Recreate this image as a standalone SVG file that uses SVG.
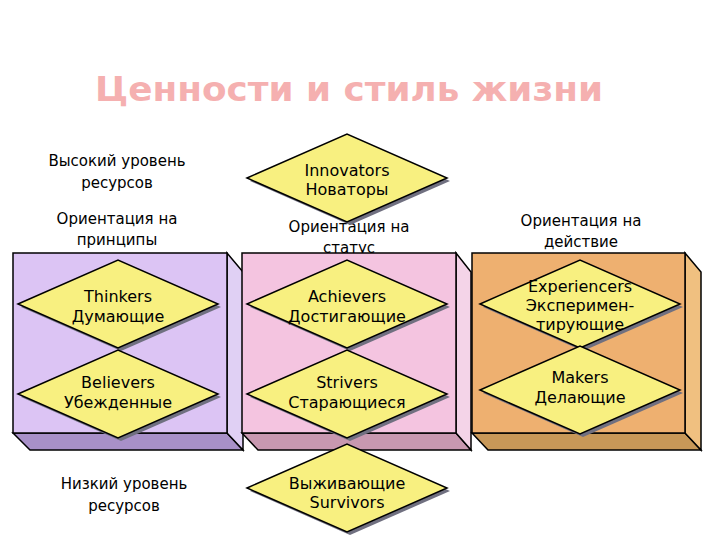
<svg xmlns="http://www.w3.org/2000/svg" width="720" height="540" viewBox="0 0 720 540">
<defs>
<style>
text{font-family:"DejaVu Sans","Liberation Sans",sans-serif;fill:#000;text-anchor:middle}
.lbl{font-size:15px}
.dt{font-size:16px}
.edge{stroke:#000;stroke-width:1.5}
.dia{fill:#f8f080;stroke:#000;stroke-width:1.5}
.sh{fill:#707080}
</style>
<polygon id="d" points="-100,0 0,-44 100,0 0,44"/>
</defs>
<rect width="720" height="540" fill="#fff"/>
<text x="349" y="101" font-size="34" font-weight="bold" fill="#f5b0b0" style="fill:#f5b0b0" textLength="508" lengthAdjust="spacingAndGlyphs">Ценности и стиль жизни</text>
<g id="labels">
<text class="lbl" x="117" y="166">Высокий уровень</text>
<text class="lbl" x="117" y="188">ресурсов</text>
<text class="lbl" x="117" y="224">Ориентация на</text>
<text class="lbl" x="117" y="245">принципы</text>
<text class="lbl" x="349" y="232">Ориентация на</text>
<text class="lbl" x="349" y="253">статус</text>
<text class="lbl" x="581" y="226">Ориентация на</text>
<text class="lbl" x="581" y="247">действие</text>
<text class="lbl" x="124" y="489">Низкий уровень</text>
<text class="lbl" x="124" y="511">ресурсов</text>
</g>
<g id="box-principles" class="edge">
<polygon points="13,433 227,433 243,450 30,450" fill="#a890c8"/>
<polygon points="227,253 243,272 243,450 227,433" fill="#e0d0f4"/>
<rect x="13" y="253" width="214" height="180" fill="#dcc4f4"/>
</g>
<g id="box-status" class="edge">
<polygon points="242,433 456,433 471,450 258,450" fill="#c898b0"/>
<polygon points="456,253 471,272 471,450 456,433" fill="#f4d4e8"/>
<rect x="242" y="253" width="214" height="180" fill="#f4c4e0"/>
</g>
<g id="box-action" class="edge">
<polygon points="472,433 685,433 701,450 488,450" fill="#c89858"/>
<polygon points="685,253 701,272 701,450 685,433" fill="#f0c080"/>
<rect x="472" y="253" width="213" height="180" fill="#eeb070"/>
</g>
<g id="innovators"><use href="#d" x="350" y="181" class="sh"/><use href="#d" x="347" y="178" class="dia"/><text class="dt" x="347" y="176">Innovators</text><text class="dt" x="347" y="195">Новаторы</text></g>
<g id="thinkers"><use href="#d" x="121" y="307" class="sh"/><use href="#d" x="118" y="304" class="dia"/><text class="dt" x="118" y="302">Thinkers</text><text class="dt" x="118" y="322">Думающие</text></g>
<g id="believers"><use href="#d" x="121" y="397" class="sh"/><use href="#d" x="118" y="394" class="dia"/><text class="dt" x="118" y="388">Believers</text><text class="dt" x="118" y="408">Убежденные</text></g>
<g id="achievers"><use href="#d" x="350" y="307" class="sh"/><use href="#d" x="347" y="304" class="dia"/><text class="dt" x="347" y="302">Achievers</text><text class="dt" x="347" y="322">Достигающие</text></g>
<g id="strivers"><use href="#d" x="350" y="397" class="sh"/><use href="#d" x="347" y="394" class="dia"/><text class="dt" x="347" y="388">Strivers</text><text class="dt" x="347" y="408">Старающиеся</text></g>
<g id="experiencers"><use href="#d" x="583" y="307" class="sh"/><use href="#d" x="580" y="304" class="dia"/><text class="dt" x="580" y="292">Experiencers</text><text class="dt" x="580" y="311">Эксперимен-</text><text class="dt" x="580" y="330">тирующие</text></g>
<g id="makers"><use href="#d" x="583" y="393" class="sh"/><use href="#d" x="580" y="390" class="dia"/><text class="dt" x="580" y="383">Makers</text><text class="dt" x="580" y="403">Делающие</text></g>
<g id="survivors"><use href="#d" x="350" y="491" class="sh"/><use href="#d" x="347" y="488" class="dia"/><text class="dt" x="347" y="489">Выживающие</text><text class="dt" x="347" y="508">Survivors</text></g>
<g id="connectors"/>
</svg>
